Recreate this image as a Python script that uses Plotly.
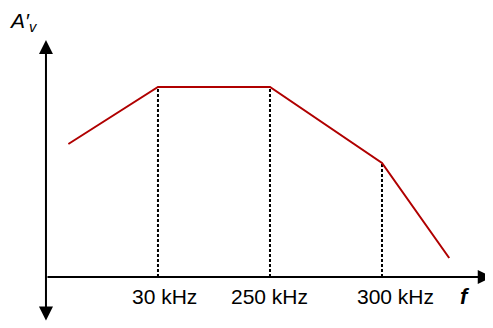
import plotly.graph_objects as go

# schematic frequency positions of the break points and their labels
corner_x = [1, 2, 3]
freq_labels = ["30 kHz", "250 kHz", "300 kHz"]
label_shift = [7, 0, 14]

# piecewise-linear gain curve (relative units)
curve_x = [0.2, 1, 2, 3, 3.6]
curve_gain = [0.7, 1.0, 1.0, 0.6, 0.1]
corner_gain = [1.0, 1.0, 0.6]

fig = go.Figure()

# dotted drop lines from each corner to the f axis
for cx, g in zip(corner_x, corner_gain):
    fig.add_trace(go.Scatter(
        x=[cx, cx], y=[0, g],
        mode='lines',
        line=dict(color='black', width=2, dash='3px,2px'),
        showlegend=False, hoverinfo='skip'
    ))

# gain curve
fig.add_trace(go.Scatter(
    x=curve_x, y=curve_gain,
    mode='lines',
    line=dict(color='#b00000', width=2),
    showlegend=False
))

# f axis arrow
fig.add_annotation(x=3.98, y=0, ax=0, ay=0, xref='x', yref='y', axref='x', ayref='y',
                   text='', showarrow=True, arrowhead=2, arrowsize=1.4, arrowwidth=2,
                   arrowcolor='black', standoff=0)
# gain axis arrow (both ways)
fig.add_annotation(x=0, y=1.247, ax=0, ay=-0.237, xref='x', yref='y', axref='x', ayref='y',
                   text='', showarrow=True, arrowhead=2, startarrowhead=2, arrowside='end+start',
                   arrowsize=1.4, startarrowsize=1.4, arrowwidth=2, arrowcolor='black',
                   standoff=0, startstandoff=0)

# frequency labels
for cx, lab, dx in zip(corner_x, freq_labels, label_shift):
    fig.add_annotation(x=cx, y=-0.105, text=lab, showarrow=False, xshift=dx,
                       font=dict(family='Liberation Sans', size=21, color='black'))

fig.add_annotation(x=3.74, y=-0.105, text='<i><b>f</b></i>', showarrow=False,
                   font=dict(family='Liberation Sans', size=22, color='black'))
fig.add_annotation(x=-0.205, y=1.343, text="<i>A′<sub>v</sub></i>", showarrow=False,
                   font=dict(family='Liberation Sans', size=21, color='black'))

# ranges offset by the page's 8px body margin
fig.update_layout(
    width=493, height=328,
    margin=dict(l=0, r=0, t=0, b=0),
    paper_bgcolor='white', plot_bgcolor='white',
    xaxis=dict(range=[-0.339, 4.0625], visible=False),
    yaxis=dict(range=[-0.3105, 1.4158], visible=False),
)

fig.write_html("out.html")
